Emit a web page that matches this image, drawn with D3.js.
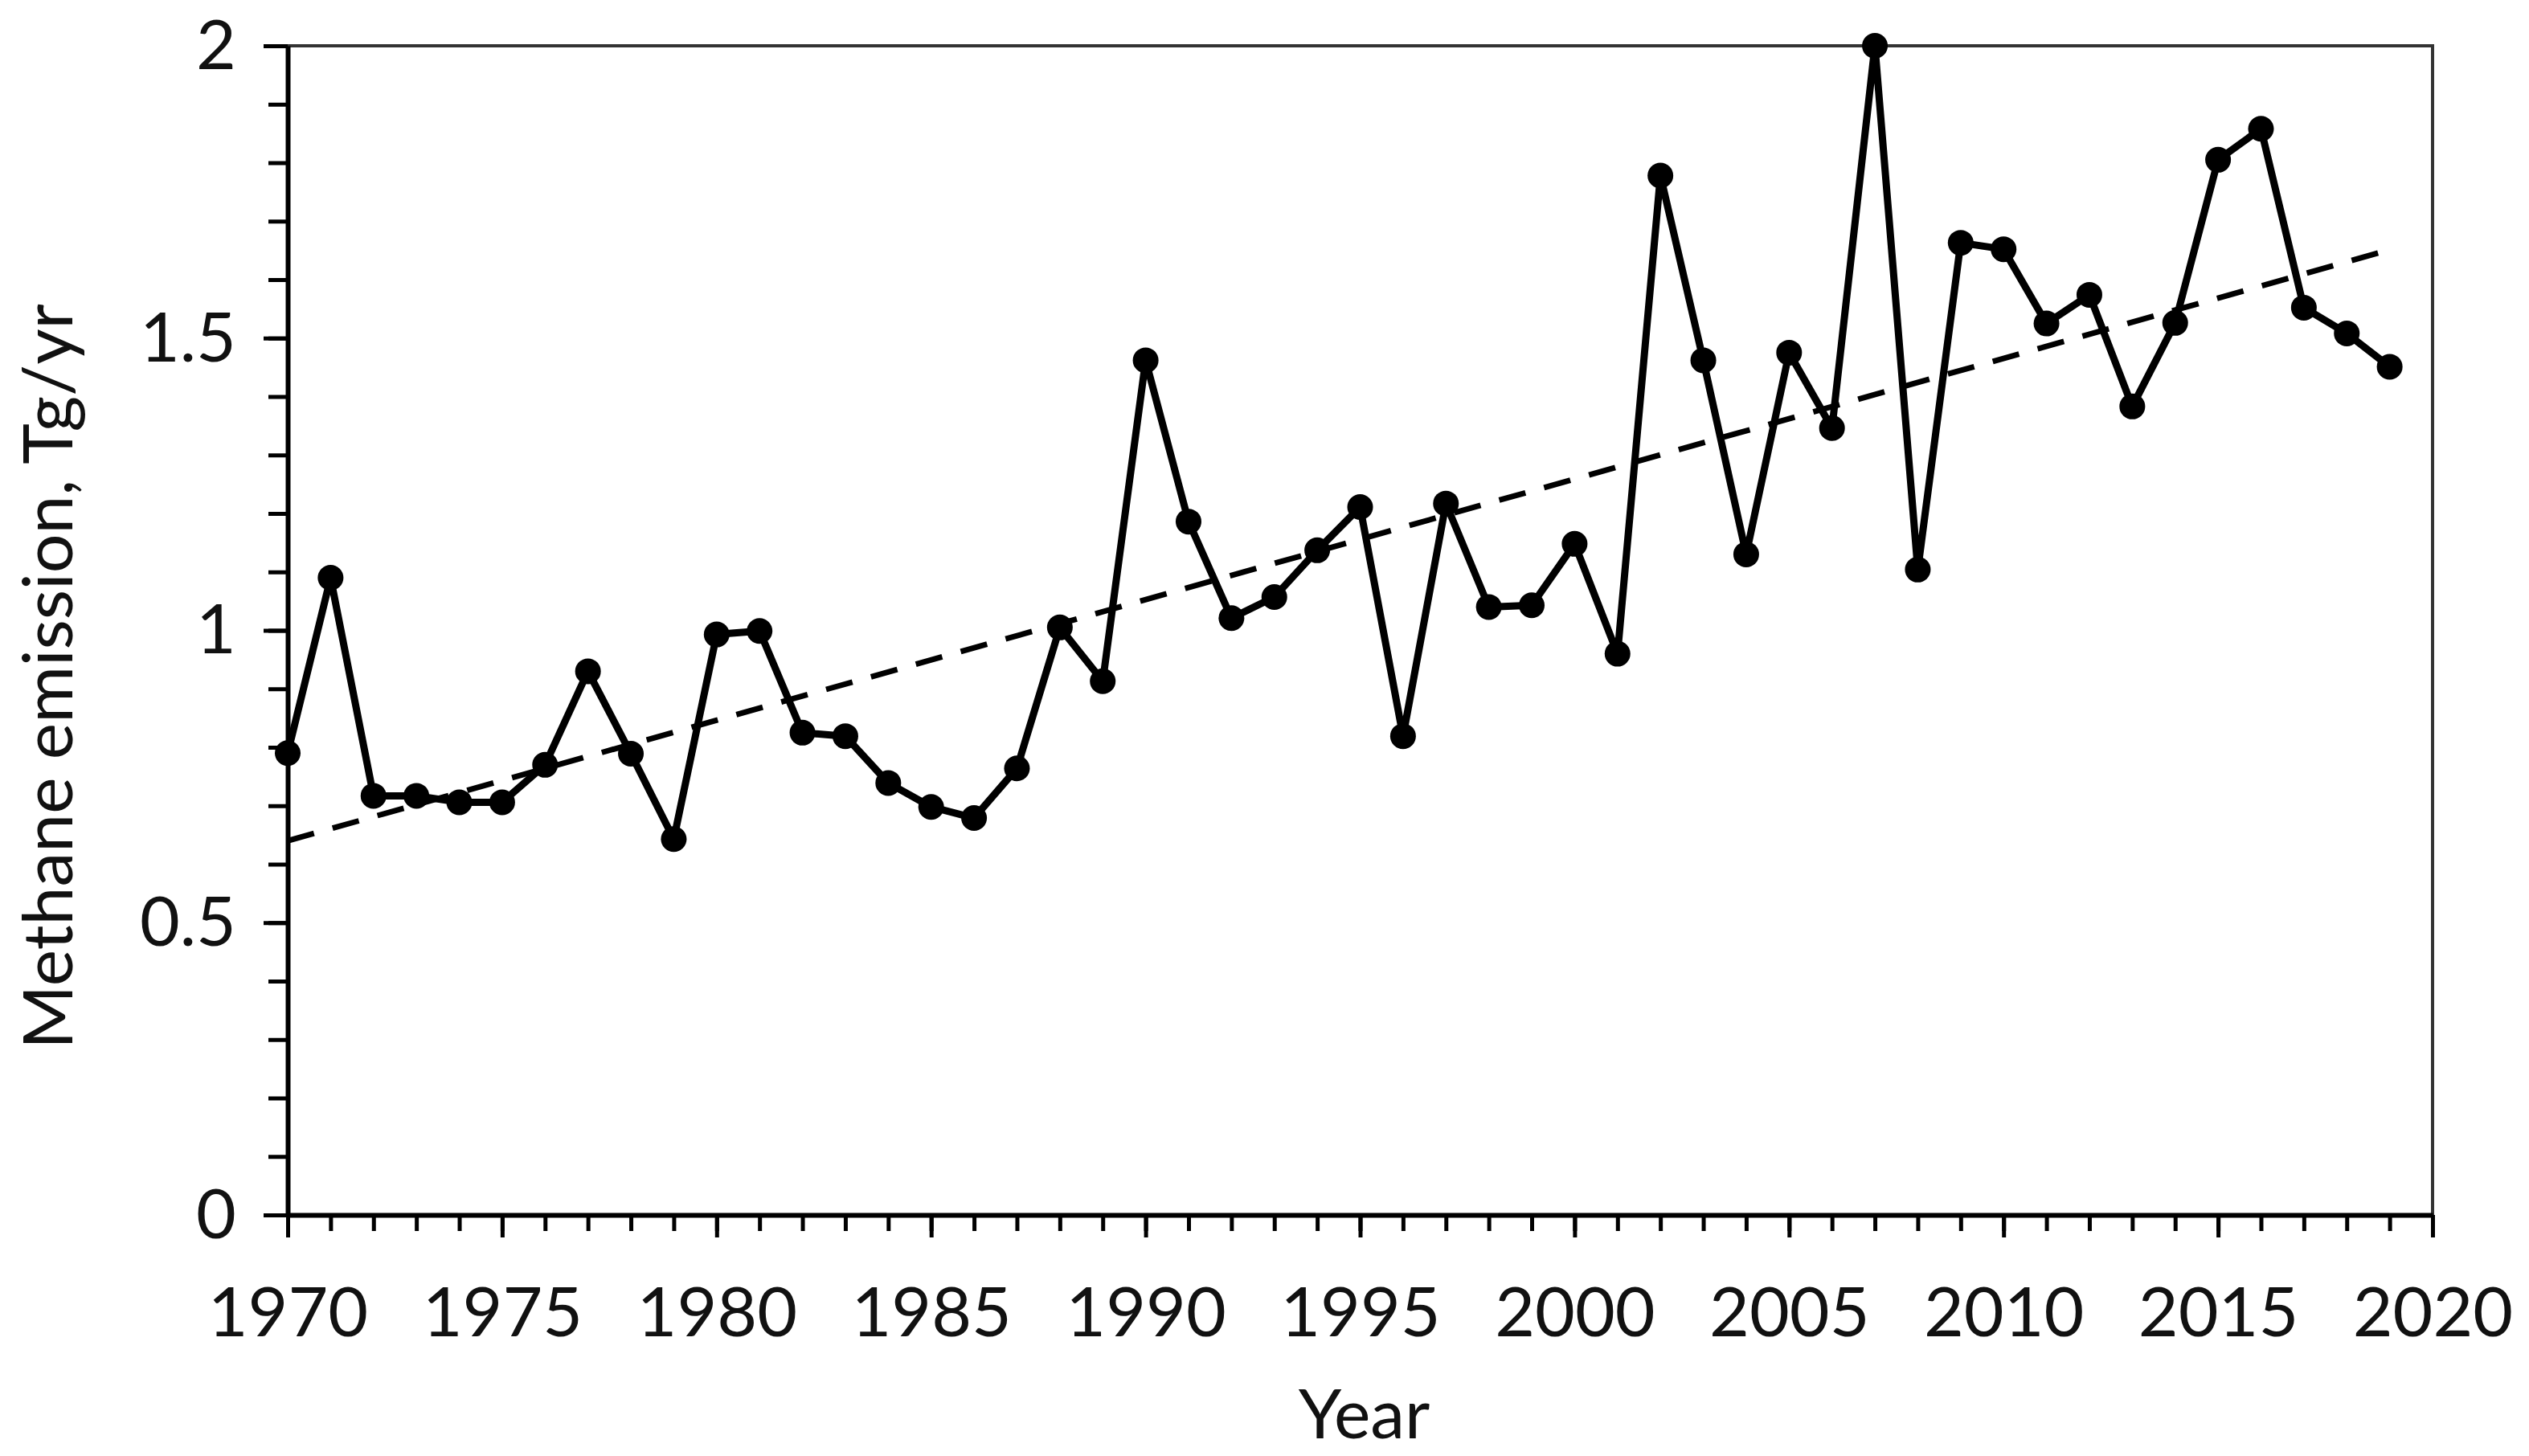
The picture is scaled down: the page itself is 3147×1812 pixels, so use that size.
<!DOCTYPE html>
<html>
<head>
<meta charset="utf-8">
<script src="https://cdn.jsdelivr.net/npm/d3@7"></script>
<style>
  html, body { margin: 0; padding: 0; background: #fff; }
  svg { display: block; }
  text { font-family: Lato, "Open Sans", sans-serif; fill: #111; }
</style>
</head>
<body>
<svg id="chart" width="3147" height="1812"></svg>
<script>
// ---- Data ----
const years = [1970,1971,1972,1973,1974,1975,1976,1977,1978,1979,
               1980,1981,1982,1983,1984,1985,1986,1987,1988,1989,
               1990,1991,1992,1993,1994,1995,1996,1997,1998,1999,
               2000,2001,2002,2003,2004,2005,2006,2007,2008,2009,
               2010,2011,2012,2013,2014,2015,2016,2017,2018,2019];
const emission = [0.79,1.09,0.717,0.717,0.706,0.706,0.77,0.93,0.789,0.643,
                  0.993,0.999,0.825,0.819,0.739,0.698,0.679,0.764,1.005,0.913,
                  1.462,1.186,1.021,1.057,1.137,1.211,0.819,1.217,1.04,1.043,
                  1.148,0.96,1.778,1.462,1.13,1.475,1.346,2.0,1.104,1.663,
                  1.652,1.525,1.574,1.383,1.526,1.805,1.858,1.552,1.508,1.451];
const trendYears = [1970, 2019];
const trendValues = [0.64, 1.651];
const yMajorTicks = [0, 0.5, 1, 1.5, 2];
const yTickLabels = ["0", "0.5", "1", "1.5", "2"];
const xMajorTicks = [1970, 1975, 1980, 1985, 1990, 1995, 2000, 2005, 2010, 2015, 2020];
const xLabel = "Year";
const yLabel = "Methane emission, Tg/yr";

// ---- Layout ----
const mLeft = 358, mRight = 3027, mTop = 57, mBottom = 1512;
const svg = d3.select("#chart");

const x = d3.scaleLinear().domain([1970, 2020]).range([mLeft, mRight]);
const y = d3.scaleLinear().domain([0, 2]).range([mBottom, mTop]);

// Frame (top & right)
svg.append("path")
  .attr("d", `M${mLeft},${mTop}H${mRight}V${mBottom}`)
  .attr("fill", "none").attr("stroke", "#333").attr("stroke-width", 4);

// Minor y ticks
const yMinor = d3.range(0, 21).map(i => i / 10);
svg.append("g").attr("transform", `translate(${mLeft},0)`)
  .call(d3.axisLeft(y).tickValues(yMinor).tickSize(24).tickSizeOuter(0).tickFormat(""))
  .call(g => g.select(".domain").remove())
  .call(g => g.selectAll(".tick line").attr("stroke", "#000").attr("stroke-width", 5));

// Major y axis
svg.append("g").attr("transform", `translate(${mLeft},0)`)
  .call(d3.axisLeft(y).tickValues(yMajorTicks).tickSize(30).tickSizeOuter(0).tickPadding(34)
        .tickFormat((d, i) => yTickLabels[i]))
  .call(g => g.select(".domain").attr("stroke", "#000").attr("stroke-width", 6))
  .call(g => g.selectAll(".tick line").attr("stroke", "#000").attr("stroke-width", 5))
  .call(g => g.selectAll(".tick text").attr("font-size", 86).attr("dy", "0.33em")
        .style("font-family", "Lato, 'Open Sans', sans-serif").attr("fill", "#111"));

// Minor x ticks
const xMinor = d3.range(1970, 2021);
svg.append("g").attr("transform", `translate(0,${mBottom})`)
  .call(d3.axisBottom(x).tickValues(xMinor).tickSize(20).tickSizeOuter(0).tickFormat(""))
  .call(g => g.select(".domain").remove())
  .call(g => g.selectAll(".tick line").attr("stroke", "#000").attr("stroke-width", 5));

// Major x axis
svg.append("g").attr("transform", `translate(0,${mBottom})`)
  .call(d3.axisBottom(x).tickValues(xMajorTicks).tickSize(28).tickSizeOuter(0).tickPadding(62)
        .tickFormat(d3.format("d")))
  .call(g => g.select(".domain").attr("stroke", "#000").attr("stroke-width", 6))
  .call(g => g.selectAll(".tick line").attr("stroke", "#000").attr("stroke-width", 5))
  .call(g => g.selectAll(".tick text").attr("font-size", 86).attr("dy", "0.71em")
        .style("font-family", "Lato, 'Open Sans', sans-serif").attr("fill", "#111"));

// Axis titles
svg.append("text")
  .attr("x", (mLeft + mRight) / 2 + 5).attr("y", 1790)
  .attr("text-anchor", "middle").attr("font-size", 86)
  .text(xLabel);

svg.append("text")
  .attr("transform", "translate(90,842) rotate(-90)")
  .attr("text-anchor", "middle").attr("font-size", 86)
  .text(yLabel);

// Trend line (dashed)
svg.append("path")
  .datum(trendYears.map((yr, i) => [yr, trendValues[i]]))
  .attr("d", d3.line().x(d => x(d[0])).y(d => y(d[1])))
  .attr("fill", "none").attr("stroke", "#000").attr("stroke-width", 7)
  .attr("stroke-dasharray", "34,24");

// Data line
const pts = years.map((yr, i) => ({ yr, v: emission[i] }));
svg.append("path")
  .datum(pts)
  .attr("d", d3.line().x(d => x(d.yr)).y(d => y(d.v)))
  .attr("fill", "none").attr("stroke", "#000").attr("stroke-width", 9)
  .attr("stroke-linejoin", "round");

// Markers
svg.append("g").selectAll("circle")
  .data(pts).join("circle")
  .attr("cx", d => x(d.yr)).attr("cy", d => y(d.v))
  .attr("r", 16).attr("fill", "#000");
</script>
</body>
</html>
